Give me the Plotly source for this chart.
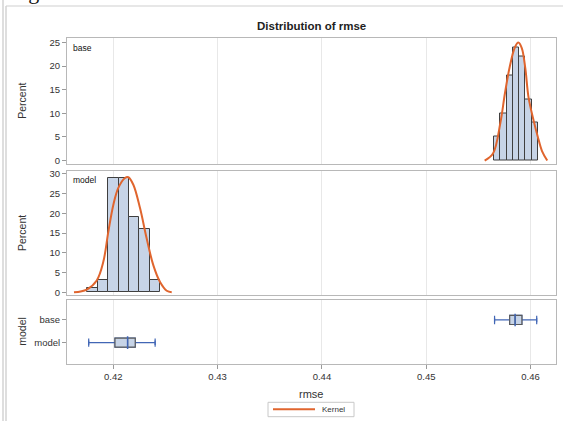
import plotly.graph_objects as go

# ---------------- data ----------------
groups = ["base", "model"]

# histogram bins (midpoints) and percents
base_bin_width = 0.0006
base_mid = [0.4568, 0.4574, 0.4580, 0.4586, 0.4592, 0.4598, 0.4604]
base_pct = [5, 10, 18, 24, 22, 13, 8]

model_bin_width = 0.001
model_mid = [0.418, 0.419, 0.420, 0.421, 0.422, 0.423, 0.424]
model_pct = [1, 3, 29, 29, 19, 16, 3]

# kernel density curves (percent scale)
base_kx = [0.4556, 0.4564, 0.4571, 0.45755, 0.4580, 0.4585, 0.45883, 0.45916,
           0.4595, 0.4598, 0.4603, 0.4607, 0.4611, 0.4616]
base_ky = [0, 1.5, 7.9, 14.3, 19.8, 24.0, 25.0, 23.8, 19.5, 13.5, 8.4, 5.0, 2.0, 0]

model_kx = [0.41623, 0.41745, 0.41841, 0.41904, 0.41952, 0.42000, 0.42048, 0.42112,
            0.42144, 0.42192, 0.42256, 0.42320, 0.42384, 0.42448, 0.42512, 0.42560]
model_ky = [0, 0.7, 3.0, 7.7, 15.3, 22.1, 26.4, 28.9, 29.1, 27.2, 21.3, 13.6, 6.8,
            2.6, 0.4, 0]

# box plot statistics
box_pos = [1, 0]                  # base, model
box_min = [0.45655, 0.41764]
box_q1 = [0.45800, 0.42016]
box_med = [0.45852, 0.42137]
box_q3 = [0.45917, 0.42210]
box_max = [0.46059, 0.42401]

x_ticks = [0.42, 0.43, 0.44, 0.45, 0.46]
x_ticklabels = ["0.42", "0.43", "0.44", "0.45", "0.46"]
legend_label = "Kernel"

# ---------------- style ----------------
BAR_FILL = "#c7d4e7"
BAR_EDGE = "#3f3f3f"
KERNEL = "#e0652e"
WHISK = "#4166b5"
BOXLINE = "#5a5a5a"
FRAME = "#b8b8b8"
GRID = "#e8e8e8"
TXT = "#333333"
FONT = "Liberation Sans, Arial, sans-serif"

W, H = 563, 421
ML, MR, MT, MB = 67, 7, 37, 57
PH = H - MT - MB


def py(px):
    """pixel row -> paper y"""
    return (H - MB - px) / PH


def pyd(px):
    return max(0.0, min(1.0, py(px)))


def px_(px):
    """pixel column -> paper x"""
    return (px - ML) / (W - ML - MR)


fig = go.Figure()

# top panel: base
fig.add_trace(go.Bar(x=base_mid, y=base_pct, width=[base_bin_width] * len(base_mid),
                     marker=dict(color=BAR_FILL, line=dict(color=BAR_EDGE, width=1)),
                     xaxis="x3", yaxis="y3", showlegend=False, hoverinfo="skip"))
fig.add_trace(go.Scatter(x=base_kx, y=base_ky, mode="lines", line=dict(color=KERNEL, width=2, shape="spline"),
                         xaxis="x3", yaxis="y3", name=legend_label, showlegend=False))

# middle panel: model
fig.add_trace(go.Bar(x=model_mid, y=model_pct, width=[model_bin_width] * len(model_mid),
                     marker=dict(color=BAR_FILL, line=dict(color=BAR_EDGE, width=1)),
                     xaxis="x2", yaxis="y2", showlegend=False, hoverinfo="skip"))
fig.add_trace(go.Scatter(x=model_kx, y=model_ky, mode="lines", line=dict(color=KERNEL, width=2, shape="spline"),
                         xaxis="x2", yaxis="y2", name=legend_label, showlegend=False))

# bottom panel: box plots
fig.add_trace(go.Box(y=box_pos, q1=box_q1, median=box_med, q3=box_q3,
                     lowerfence=box_min, upperfence=box_max, orientation="h",
                     width=0.4, fillcolor=BAR_FILL, line=dict(color=WHISK, width=1.2),
                     xaxis="x", yaxis="y", showlegend=False, hoverinfo="skip"))
fig.add_trace(go.Box(y=box_pos, q1=box_q1, median=box_med, q3=box_q3,
                     lowerfence=box_q1, upperfence=box_q3, orientation="h",
                     width=0.4, fillcolor=BAR_FILL, line=dict(color=BOXLINE, width=1.2),
                     xaxis="x", yaxis="y", showlegend=False, hoverinfo="skip"))
fig.add_trace(go.Scatter(x=box_med, y=box_pos, mode="markers",
                         marker=dict(symbol="line-ns", size=9, line=dict(color=WHISK, width=1.5)),
                         xaxis="x", yaxis="y", showlegend=False, hoverinfo="skip"))
fig.add_trace(go.Scatter(x=box_min + box_max, y=box_pos + box_pos, mode="markers",
                         marker=dict(symbol="line-ns", size=6, line=dict(color=WHISK, width=1.2)),
                         xaxis="x", yaxis="y", showlegend=False, hoverinfo="skip"))

xr = [0.41556, 0.46244]
common_x = dict(range=xr, showgrid=True, gridcolor=GRID, gridwidth=1, tickvals=x_ticks,
                ticktext=x_ticklabels, showline=True, linecolor=FRAME, linewidth=1, mirror=True,
                zeroline=False, automargin=False)
common_y = dict(showgrid=False, zeroline=False, showline=True, linecolor=FRAME, linewidth=1,
                mirror=True, ticks="outside", ticklen=4, tickcolor="#9a9a9a", automargin=False,
                tickfont=dict(size=9.5, color=TXT, family=FONT))

fig.update_layout(
    width=W, height=H,
    margin=dict(l=ML, r=MR, t=MT, b=MB, autoexpand=False),
    paper_bgcolor="white", plot_bgcolor="white",
    bargap=0, boxmode="overlay", showlegend=False,
    font=dict(family=FONT, color=TXT),
    xaxis=dict(**common_x, anchor="y", ticks="outside", ticklen=4, tickcolor="#9a9a9a",
               tickfont=dict(size=9.5, color=TXT, family=FONT)),
    xaxis2=dict(**common_x, anchor="y2", matches="x", showticklabels=False, ticks=""),
    xaxis3=dict(**common_x, anchor="y3", matches="x", showticklabels=False, ticks=""),
    yaxis=dict(**common_y, domain=[0, pyd(299.5)], range=[-0.94, 1.90],
               tickvals=box_pos, ticktext=groups),
    yaxis2=dict(**common_y, domain=[pyd(295), pyd(171)], range=[-0.68, 30.68],
                tickvals=[0, 5, 10, 15, 20, 25, 30]),
    yaxis3=dict(**common_y, domain=[pyd(164), pyd(37.5)], range=[-0.74, 26.06],
                tickvals=[0, 5, 10, 15, 20, 25]),
)

# title & axis labels as annotations
anns = [
    dict(text="<b>Distribution of rmse</b>", x=0.5, y=py(26), xref="paper", yref="paper",
         xanchor="center", yanchor="middle", showarrow=False, font=dict(size=11.5, color="#222", family=FONT)),
    dict(text="rmse", x=px_(311), y=py(394), xref="paper", yref="paper",
         xanchor="center", yanchor="middle", showarrow=False, font=dict(size=11, color=TXT, family=FONT)),
    dict(text="Percent", x=px_(22), y=py((164 + 37.5) / 2), xref="paper", yref="paper",
         xanchor="center", yanchor="middle", textangle=-90, showarrow=False,
         font=dict(size=10.5, color=TXT, family=FONT)),
    dict(text="Percent", x=px_(22), y=py((295 + 171) / 2), xref="paper", yref="paper",
         xanchor="center", yanchor="middle", textangle=-90, showarrow=False,
         font=dict(size=10.5, color=TXT, family=FONT)),
    dict(text="model", x=px_(22), y=py((364 + 299.5) / 2), xref="paper", yref="paper",
         xanchor="center", yanchor="middle", textangle=-90, showarrow=False,
         font=dict(size=10.5, color=TXT, family=FONT)),
    dict(text="base", x=px_(71), y=py(47.5), xref="paper", yref="paper",
         xanchor="left", yanchor="middle", showarrow=False, font=dict(size=8.5, color="#111", family=FONT)),
    dict(text="model", x=px_(71), y=py(179.5), xref="paper", yref="paper",
         xanchor="left", yanchor="middle", showarrow=False, font=dict(size=8.5, color="#111", family=FONT)),
    dict(text="Fig. 4", x=px_(8), y=py(6), xref="paper", yref="paper",
         xanchor="left", yanchor="bottom", showarrow=False,
         font=dict(size=22, color="#111", family="Liberation Serif, serif")),
    # legend label
    dict(text=legend_label, x=px_(320), y=py(409.5), xref="paper", yref="paper",
         xanchor="left", yanchor="middle", showarrow=False,
         font=dict(size=8, color=TXT, family=FONT)),
]
fig.update_layout(annotations=anns)

# legend frame and sample line (decoration)
fig.add_shape(type="rect", xref="paper", yref="paper", x0=px_(268), x1=px_(354),
              y0=py(416.7), y1=py(402.3), line=dict(color="#c8c8c8", width=1), fillcolor="white")
fig.add_shape(type="line", xref="paper", yref="paper", x0=px_(273), x1=px_(315),
              y0=py(409.3), y1=py(409.3), line=dict(color=KERNEL, width=2))

# outer page frame lines
fig.add_shape(type="line", xref="paper", yref="paper", x0=px_(3), x1=px_(3), y0=py(425), y1=py(-5),
              line=dict(color="#bdbdbd", width=1))
fig.add_shape(type="line", xref="paper", yref="paper", x0=px_(6), x1=px_(6), y0=py(425), y1=py(6),
              line=dict(color="#bdbdbd", width=1))
fig.add_shape(type="line", xref="paper", yref="paper", x0=px_(6), x1=px_(570), y0=py(6), y1=py(6),
              line=dict(color="#cfcfcf", width=1))

fig.write_html("out.html", config={"displayModeBar": False},
               post_script="document.body.style.margin='0px';document.body.style.overflow='hidden';")
